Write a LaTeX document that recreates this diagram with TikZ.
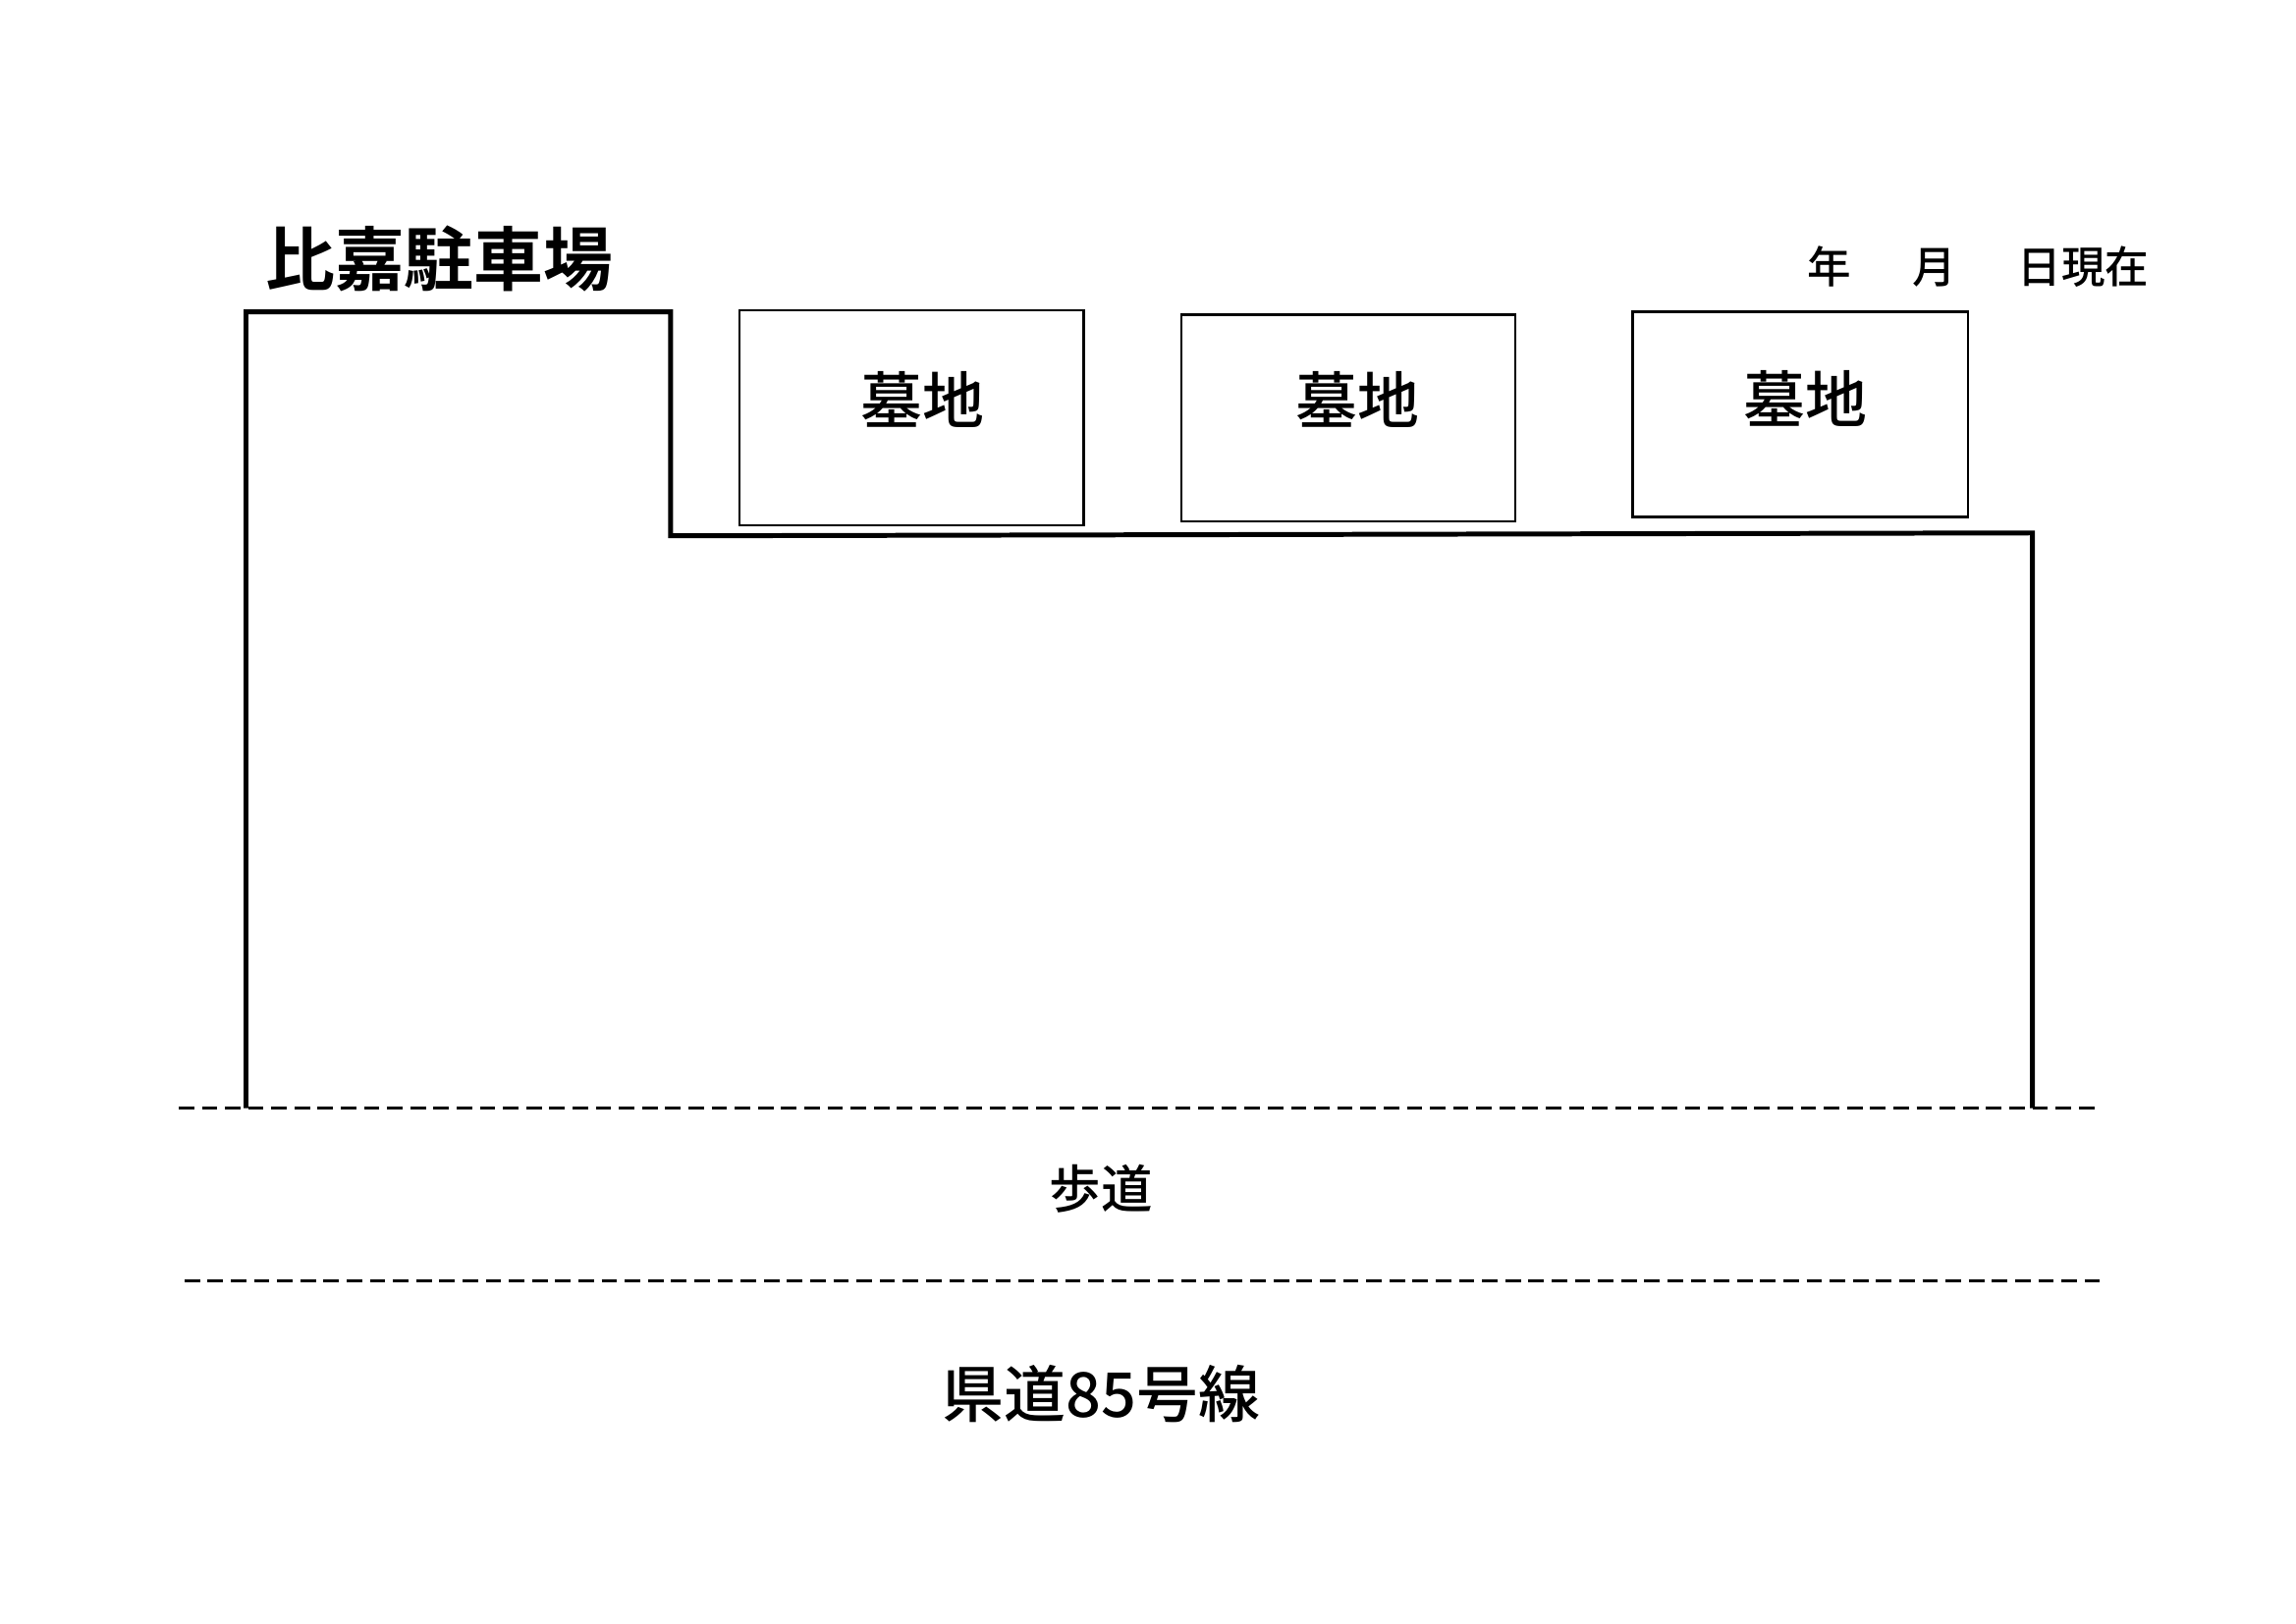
\documentclass[tikz,border=0pt]{standalone}
\usepackage{fontspec}
\newfontfamily\cjk{Noto Sans CJK JP}
\newfontfamily\cjkm{Noto Sans CJK JP Medium}
\newfontfamily\cjkb{Noto Sans CJK JP Bold}
\begin{document}
\begin{tikzpicture}[x=0.01cm,y=-0.01cm,
  lot/.style={line width=0.95pt},
  grave/.style={draw,line width=0.45pt},
  dashline/.style={dashed,dash pattern=on 3pt off 1.5pt,line width=0.6pt}]
\useasboundingbox (0,0) rectangle (1568,1109);
\coordinate (p1) at (168,757);
\coordinate (p2) at (168,213);
\coordinate (p3) at (458,213);
\coordinate (p4) at (458,366);
\coordinate (p5) at (1388,364);
\coordinate (p6) at (1388,757);
\draw[lot] (p1) -- (p2) -- (p3) -- (p4) -- (p5) -- (p6);
\node[grave,minimum width=235*0.01cm,minimum height=147*0.01cm] (g1) at (622.5,285.5) {};
\node[grave,minimum width=228*0.01cm,minimum height=141*0.01cm] (g2) at (921,285.5) {};
\node[grave,minimum width=229*0.01cm,minimum height=140*0.01cm] (g3) at (1229.5,283) {};
\node[font=\cjkm\fontsize{12}{14}\selectfont] (t1) at (630,273) {墓地};
\node[font=\cjkm\fontsize{12}{14}\selectfont] (t2) at (927,273) {墓地};
\node[font=\cjkm\fontsize{12}{14}\selectfont] (t3) at (1233,272) {墓地};
\node[font=\cjkb\fontsize{13.5}{16}\selectfont] (title) at (300,177) {比嘉駐車場};
\node[font=\cjkm\fontsize{8.5}{10}\selectfont] (date) at (1351,182) {年\hspace{1.4em}月\hspace{1.4em}日現在};
\coordinate (d1a) at (122,757); \coordinate (d1b) at (1432,757);
\coordinate (d2a) at (126,875); \coordinate (d2b) at (1437,875);
\draw[dashline] (d1a) -- (d1b);
\draw[dashline] (d2a) -- (d2b);
\node[font=\cjkm\fontsize{10}{12}\selectfont] (walk) at (752,812) {歩道};
\node[font=\cjkm\fontsize{12}{14}\selectfont] (road) at (752,952) {県道85号線};
\end{tikzpicture}
\end{document}
